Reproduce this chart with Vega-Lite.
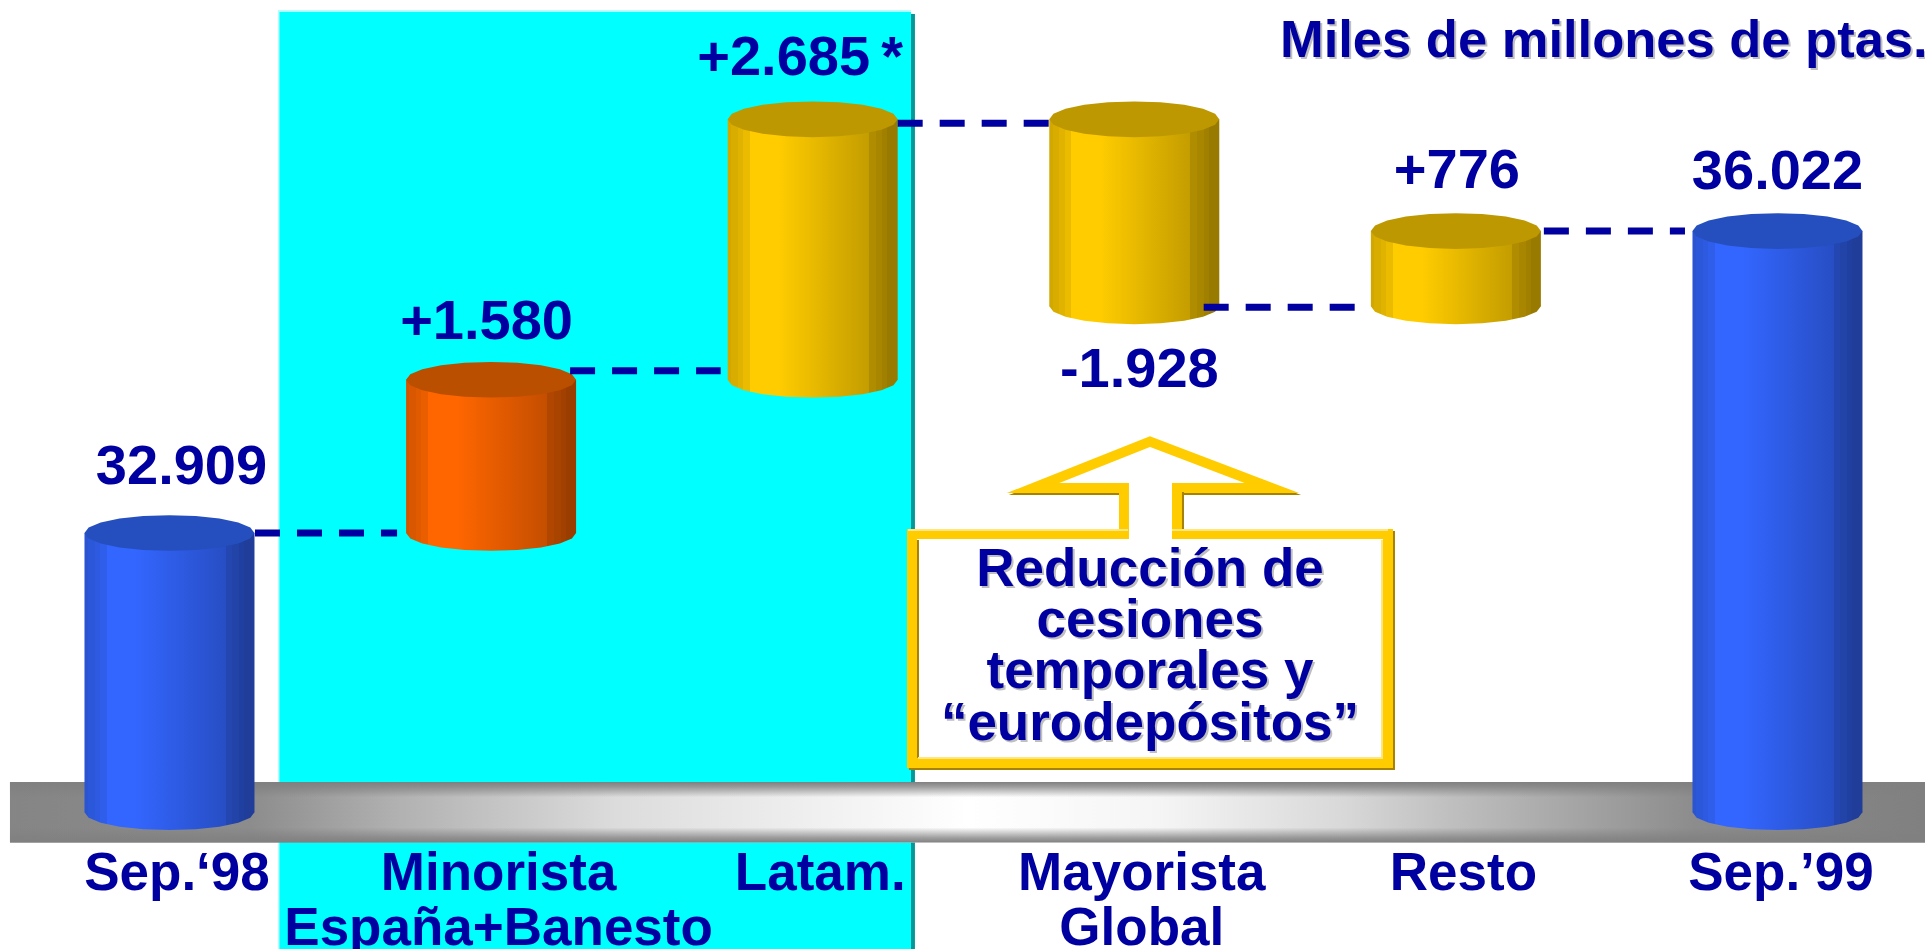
{
  "$schema": "https://vega.github.io/schema/vega-lite/v6.json",
  "width": 1925,
  "height": 949,
  "padding": 0,
  "autosize": "none",
  "background": "white",
  "datasets": {
    "tramos": [
      {"concepto": "Sep.‘98", "orden": 1, "siguiente": 2, "suelo": 30030, "techo": 32909, "nivel": 32909, "grupo": "saldo", "rotulo": "32.909"},
      {"concepto": "Minorista España+Banesto", "orden": 2, "siguiente": 3, "suelo": 32909, "techo": 34489, "nivel": 34489, "grupo": "minorista", "rotulo": "+1.580"},
      {"concepto": "Latam.", "orden": 3, "siguiente": 4, "suelo": 34489, "techo": 37174, "nivel": 37174, "grupo": "otros", "rotulo": "+2.685\u2009*"},
      {"concepto": "Mayorista Global", "orden": 4, "siguiente": 5, "suelo": 35246, "techo": 37174, "nivel": 35246, "grupo": "otros", "rotulo": "-1.928"},
      {"concepto": "Resto", "orden": 5, "siguiente": 6, "suelo": 35246, "techo": 36022, "nivel": 36022, "grupo": "otros", "rotulo": "+776"},
      {"concepto": "Sep.’99", "orden": 6, "suelo": 30030, "techo": 36022, "nivel": 36022, "grupo": "saldo", "rotulo": "36.022"}
    ],
    "paneles": [
      {"elemento": "sombra", "desde": 1.3374, "hasta": 3.318, "arriba": 38260, "abajo": 28620},
      {"elemento": "brillo", "desde": 1.3374, "hasta": 3.3056, "arriba": 38301, "abajo": 28620},
      {"elemento": "fondo", "desde": 1.3421, "hasta": 3.3056, "arriba": 38280, "abajo": 28620},
      {"elemento": "base", "desde": 0.504, "hasta": 6.4587, "arriba": 30341, "abajo": 29717}
    ],
    "notas": [
      {"clase": "unidad", "texto": "Miles de millones de ptas.", "orden": 4.453, "nivel": 37819},
      {"clase": "llamada", "texto": "Reducción de\ncesiones\ntemporales y\n“eurodepósitos”", "orden": 4.0488, "nivel": 32218}
    ]
  },
  "data": {"name": "tramos"},
  "encoding": {
    "x": {
      "field": "orden",
      "type": "quantitative",
      "scale": {"domain": [0.473, 6.4587], "nice": false, "zero": false, "padding": 0},
      "axis": {
        "title": null,
        "values": [1, 2, 3, 4, 5, 6],
        "labelExpr": "['Sep.‘98', ['Minorista', 'España+Banesto'], 'Latam.', ['Mayorista', 'Global'], 'Resto', 'Sep.’99'][datum.value - 1]",
        "grid": false,
        "domain": false,
        "ticks": false,
        "zindex": 1,
        "offset": -102,
        "labelPadding": 0,
        "labelOffset": {"condition": {"test": "datum.value === 6", "value": 3}, "value": 7},
        "labelBaseline": "top",
        "labelFont": "Liberation Sans",
        "labelFontWeight": "bold",
        "labelFontSize": 53,
        "labelLineHeight": 55,
        "labelColor": "#0000A0",
        "labelOverlap": false,
        "labelBound": false,
        "labelFlush": false,
        "labelLimit": 0
      }
    },
    "y": {
      "field": "nivel",
      "type": "quantitative",
      "axis": null,
      "scale": {"domain": [28620, 38404], "nice": false, "zero": false, "padding": 0}
    }
  },
  "layer": [
    {
      "description": "Panel cian del negocio minorista, con su canto oscuro y su brillo",
      "data": {"name": "paneles"},
      "transform": [{"filter": "datum.elemento !== 'base'"}],
      "mark": {"type": "rect", "stroke": null},
      "encoding": {
        "x": {"field": "desde", "type": "quantitative"},
        "x2": {"field": "hasta"},
        "y": {"field": "arriba", "type": "quantitative", "axis": null},
        "y2": {"field": "abajo"},
        "fill": {
          "field": "elemento",
          "type": "nominal",
          "legend": null,
          "scale": {"domain": ["sombra", "brillo", "fondo"], "range": ["#009999", "#B3FFFF", "#00FFFF"]}
        }
      }
    },
    {
      "description": "Peana gris: degradado horizontal",
      "data": {"name": "paneles"},
      "transform": [{"filter": "datum.elemento === 'base'"}],
      "mark": {
        "type": "rect",
        "fill": {
          "gradient": "linear", "x1": 0, "y1": 0, "x2": 1, "y2": 0,
          "stops": [
            {"offset": 0, "color": "#858585"},
            {"offset": 0.125, "color": "#8C8C8C"},
            {"offset": 0.2, "color": "#B0B0B0"},
            {"offset": 0.317, "color": "#DCDCDC"},
            {"offset": 0.5, "color": "#FFFFFF"},
            {"offset": 0.6, "color": "#F5F5F5"},
            {"offset": 0.697, "color": "#D8D8D8"},
            {"offset": 0.75, "color": "#C0C0C0"},
            {"offset": 0.88, "color": "#8C8C8C"},
            {"offset": 1, "color": "#808080"}
          ]
        }
      },
      "encoding": {
        "x": {"field": "desde", "type": "quantitative"},
        "x2": {"field": "hasta"},
        "y": {"field": "arriba", "type": "quantitative", "axis": null},
        "y2": {"field": "abajo"}
      }
    },
    {
      "description": "Peana gris: oscurecido de los cantos superior e inferior",
      "data": {"name": "paneles"},
      "transform": [{"filter": "datum.elemento === 'base'"}],
      "mark": {
        "type": "rect",
        "fill": {
          "gradient": "linear", "x1": 0, "y1": 0, "x2": 0, "y2": 1,
          "stops": [
            {"offset": 0, "color": "rgba(128,128,128,1)"},
            {"offset": 0.08, "color": "rgba(128,128,128,0.75)"},
            {"offset": 0.25, "color": "rgba(128,128,128,0)"},
            {"offset": 0.75, "color": "rgba(128,128,128,0)"},
            {"offset": 0.92, "color": "rgba(128,128,128,0.75)"},
            {"offset": 1, "color": "rgba(128,128,128,1)"}
          ]
        }
      },
      "encoding": {
        "x": {"field": "desde", "type": "quantitative"},
        "x2": {"field": "hasta"},
        "y": {"field": "arriba", "type": "quantitative", "axis": null},
        "y2": {"field": "abajo"}
      }
    },
    {
      "description": "Cuerpo y base de los cilindros de saldo",
      "transform": [{"filter": "datum.grupo === 'saldo'"}],
      "layer": [
        {
          "mark": {"type": "point", "style": "cilindroAzul", "filled": true, "opacity": 1, "shape": "M1 0L0.951 0.065L0.809 0.123L0.588 0.17L0.309 0.2L0 0.21L-0.309 0.2L-0.588 0.17L-0.809 0.123L-0.951 0.065L-1 0L-0.951 -0.065L-0.809 -0.123L-0.588 -0.17L-0.309 -0.2L0 -0.21L0.309 -0.2L0.588 -0.17L0.809 -0.123L0.951 -0.065Z", "size": 28900},
          "encoding": {"y": {"field": "suelo", "type": "quantitative", "axis": null}}
        },
        {
          "mark": {"type": "bar", "style": "cilindroAzul", "width": 170},
          "encoding": {
            "y": {"field": "techo", "type": "quantitative", "axis": null},
            "y2": {"field": "suelo"}
          }
        }
      ]
    },
    {
      "description": "Cuerpo y base del cilindro minorista",
      "transform": [{"filter": "datum.grupo === 'minorista'"}],
      "layer": [
        {
          "mark": {"type": "point", "style": "cilindroNaranja", "filled": true, "opacity": 1, "shape": "M1 0L0.951 0.065L0.809 0.123L0.588 0.17L0.309 0.2L0 0.21L-0.309 0.2L-0.588 0.17L-0.809 0.123L-0.951 0.065L-1 0L-0.951 -0.065L-0.809 -0.123L-0.588 -0.17L-0.309 -0.2L0 -0.21L0.309 -0.2L0.588 -0.17L0.809 -0.123L0.951 -0.065Z", "size": 28900},
          "encoding": {"y": {"field": "suelo", "type": "quantitative", "axis": null}}
        },
        {
          "mark": {"type": "bar", "style": "cilindroNaranja", "width": 170},
          "encoding": {
            "y": {"field": "techo", "type": "quantitative", "axis": null},
            "y2": {"field": "suelo"}
          }
        }
      ]
    },
    {
      "description": "Cuerpo y base de los cilindros dorados",
      "transform": [{"filter": "datum.grupo === 'otros'"}],
      "layer": [
        {
          "mark": {"type": "point", "style": "cilindroOro", "filled": true, "opacity": 1, "shape": "M1 0L0.951 0.065L0.809 0.123L0.588 0.17L0.309 0.2L0 0.21L-0.309 0.2L-0.588 0.17L-0.809 0.123L-0.951 0.065L-1 0L-0.951 -0.065L-0.809 -0.123L-0.588 -0.17L-0.309 -0.2L0 -0.21L0.309 -0.2L0.588 -0.17L0.809 -0.123L0.951 -0.065Z", "size": 28900},
          "encoding": {"y": {"field": "suelo", "type": "quantitative", "axis": null}}
        },
        {
          "mark": {"type": "bar", "style": "cilindroOro", "width": 170},
          "encoding": {
            "y": {"field": "techo", "type": "quantitative", "axis": null},
            "y2": {"field": "suelo"}
          }
        }
      ]
    },
    {
      "description": "Tapa superior de cada cilindro",
      "mark": {"type": "point", "filled": true, "opacity": 1, "shape": "M1 0L0.951 0.065L0.809 0.123L0.588 0.17L0.309 0.2L0 0.21L-0.309 0.2L-0.588 0.17L-0.809 0.123L-0.951 0.065L-1 0L-0.951 -0.065L-0.809 -0.123L-0.588 -0.17L-0.309 -0.2L0 -0.21L0.309 -0.2L0.588 -0.17L0.809 -0.123L0.951 -0.065Z", "size": 28900},
      "encoding": {
        "y": {"field": "techo", "type": "quantitative", "axis": null},
        "color": {
          "field": "grupo",
          "type": "nominal",
          "legend": null,
          "scale": {"domain": ["saldo", "minorista", "otros"], "range": ["#254FBF", "#BA4F00", "#BD9800"]}
        }
      }
    },
    {
      "description": "Flecha de la llamada: canto oscuro",
      "data": {"name": "notas"},
      "transform": [{"filter": "datum.clase === 'llamada'"}],
      "mark": {
        "type": "point", "filled": false, "opacity": 1, "xOffset": 2, "yOffset": 2,
        "stroke": "#A68200", "strokeWidth": 10, "strokeJoin": "miter", "strokeMiterLimit": 10,
        "shape": "M-238 -66L-26 -66L-26 -112L-117 -112L0 -158.5L122 -112L27 -112L27 -66L238 -66L238 163L-238 163Z",
        "size": 4
      }
    },
    {
      "description": "Flecha de la llamada: trazo dorado y fondo blanco",
      "data": {"name": "notas"},
      "transform": [{"filter": "datum.clase === 'llamada'"}],
      "mark": {
        "type": "point", "filled": false, "opacity": 1, "fill": "white", "fillOpacity": 1,
        "stroke": "#FFCC00", "strokeWidth": 10, "strokeJoin": "miter", "strokeMiterLimit": 10,
        "shape": "M-238 -66L-26 -66L-26 -112L-117 -112L0 -158.5L122 -112L27 -112L27 -66L238 -66L238 163L-238 163Z",
        "size": 4
      }
    },
    {
      "description": "Flecha de la llamada: biseles oscuros interiores",
      "data": {"name": "notas"},
      "transform": [{"filter": "datum.clase === 'llamada'"}],
      "mark": {
        "type": "point", "filled": false, "opacity": 1, "stroke": "#A68200", "strokeWidth": 2,
        "shape": "M-232 158L-232 -60M33 -69L33 -108",
        "size": 4
      }
    },
    {
      "description": "Flecha de la llamada: biseles claros",
      "data": {"name": "notas"},
      "transform": [{"filter": "datum.clase === 'llamada'"}],
      "mark": {
        "type": "point", "filled": false, "opacity": 1, "stroke": "#FFE680", "strokeWidth": 2,
        "shape": "M-242 -70L-22 -70M22 -70L238 -70M-232 158L232 158L232 -60",
        "size": 4
      }
    },
    {
      "description": "Conector Sep.98 a Minorista",
      "transform": [{"filter": "datum.orden === 1"}],
      "mark": {"type": "rule", "stroke": "#0000A0", "strokeWidth": 7, "strokeDash": [25, 17], "xOffset": 85.5, "x2Offset": -94},
      "encoding": {"x2": {"field": "siguiente"}}
    },
    {
      "description": "Conector Minorista a Latam.",
      "transform": [{"filter": "datum.orden === 2"}],
      "mark": {"type": "rule", "stroke": "#0000A0", "strokeWidth": 7, "strokeDash": [25, 17], "xOffset": 79, "x2Offset": -92, "yOffset": -9},
      "encoding": {"x2": {"field": "siguiente"}}
    },
    {
      "description": "Conector Latam. a Mayorista",
      "transform": [{"filter": "datum.orden === 3"}],
      "mark": {"type": "rule", "stroke": "#0000A0", "strokeWidth": 7, "strokeDash": [25, 17], "xOffset": 85, "x2Offset": -84, "yOffset": 4},
      "encoding": {"x2": {"field": "siguiente"}}
    },
    {
      "description": "Conector Mayorista a Resto",
      "transform": [{"filter": "datum.orden === 4"}],
      "mark": {"type": "rule", "stroke": "#0000A0", "strokeWidth": 7, "strokeDash": [25, 17], "xOffset": 69.4, "x2Offset": -101, "yOffset": 1},
      "encoding": {"x2": {"field": "siguiente"}}
    },
    {
      "description": "Conector Resto a Sep.99",
      "transform": [{"filter": "datum.orden === 5"}],
      "mark": {"type": "rule", "stroke": "#0000A0", "strokeWidth": 7, "strokeDash": [25, 17], "xOffset": 88, "x2Offset": -92.5},
      "encoding": {"x2": {"field": "siguiente"}}
    },
    {
      "transform": [{"filter": "datum.orden === 1"}],
      "mark": {"type": "text", "style": "cifra", "dx": 12, "dy": -49},
      "encoding": {"text": {"field": "rotulo"}}
    },
    {
      "transform": [{"filter": "datum.orden === 2"}],
      "mark": {"type": "text", "style": "cifra", "dx": -4.5, "dy": -41},
      "encoding": {"text": {"field": "rotulo"}}
    },
    {
      "transform": [{"filter": "datum.orden === 3"}],
      "mark": {"type": "text", "style": "cifra", "dx": -12.5, "dy": -44},
      "encoding": {"text": {"field": "rotulo"}}
    },
    {
      "transform": [{"filter": "datum.orden === 4"}],
      "mark": {"type": "text", "style": "cifra", "dx": 5, "dy": 80.7},
      "encoding": {"text": {"field": "rotulo"}}
    },
    {
      "transform": [{"filter": "datum.orden === 5"}],
      "mark": {"type": "text", "style": "cifra", "dx": 1, "dy": -43},
      "encoding": {"text": {"field": "rotulo"}}
    },
    {
      "transform": [{"filter": "datum.orden === 6"}],
      "mark": {"type": "text", "style": "cifra", "dx": 0, "dy": -42},
      "encoding": {"text": {"field": "rotulo"}}
    },
    {
      "description": "Unidad de medida, sombra",
      "data": {"name": "notas"},
      "transform": [{"filter": "datum.clase === 'unidad'"}],
      "mark": {"type": "text", "font": "Liberation Sans", "fontWeight": "bold", "fontSize": 52.5, "align": "left", "baseline": "alphabetic", "fill": "#BFBFBF", "dx": 2, "dy": 2},
      "encoding": {"text": {"field": "texto"}}
    },
    {
      "description": "Unidad de medida",
      "data": {"name": "notas"},
      "transform": [{"filter": "datum.clase === 'unidad'"}],
      "mark": {"type": "text", "font": "Liberation Sans", "fontWeight": "bold", "fontSize": 52.5, "align": "left", "baseline": "alphabetic", "fill": "#0000A0"},
      "encoding": {"text": {"field": "texto"}}
    },
    {
      "description": "Texto de la llamada, sombra",
      "data": {"name": "notas"},
      "transform": [{"filter": "datum.clase === 'llamada'"}],
      "mark": {"type": "text", "font": "Liberation Sans", "fontWeight": "bold", "fontSize": 53, "align": "center", "baseline": "alphabetic", "lineBreak": "\n", "lineHeight": 51.2, "fill": "#BFBFBF", "dx": 2, "dy": -12},
      "encoding": {"text": {"field": "texto"}}
    },
    {
      "description": "Texto de la llamada",
      "data": {"name": "notas"},
      "transform": [{"filter": "datum.clase === 'llamada'"}],
      "mark": {"type": "text", "font": "Liberation Sans", "fontWeight": "bold", "fontSize": 53, "align": "center", "baseline": "alphabetic", "lineBreak": "\n", "lineHeight": 51.2, "fill": "#0000A0", "dy": -14},
      "encoding": {"text": {"field": "texto"}}
    }
  ],
  "config": {
    "view": {"stroke": null},
    "style": {
      "cifra": {"font": "Liberation Sans", "fontWeight": "bold", "fontSize": 56, "align": "center", "baseline": "alphabetic", "color": "#0000A0"},
      "cilindroAzul": {
        "stroke": null,
        "color": {
          "gradient": "linear", "x1": 0, "y1": 0, "x2": 1, "y2": 0,
          "stops": [
            {"offset": 0, "color": "#2A54D1"}, {"offset": 0.02, "color": "#2A54D1"},
            {"offset": 0.02, "color": "#2B57D9"}, {"offset": 0.06, "color": "#2B57D9"},
            {"offset": 0.06, "color": "#2D5AE0"}, {"offset": 0.09, "color": "#2D5AE0"},
            {"offset": 0.09, "color": "#2F5EEB"}, {"offset": 0.13, "color": "#2F5EEB"},
            {"offset": 0.13, "color": "#3366FF"}, {"offset": 0.3, "color": "#3366FF"},
            {"offset": 0.83, "color": "#274EC4"},
            {"offset": 0.83, "color": "#2346B0"}, {"offset": 0.87, "color": "#2346B0"},
            {"offset": 0.87, "color": "#2243A8"}, {"offset": 0.91, "color": "#2243A8"},
            {"offset": 0.91, "color": "#2040A1"}, {"offset": 0.94, "color": "#2040A1"},
            {"offset": 0.94, "color": "#1F3D99"}, {"offset": 1, "color": "#1F3D99"}
          ]
        }
      },
      "cilindroNaranja": {
        "stroke": null,
        "color": {
          "gradient": "linear", "x1": 0, "y1": 0, "x2": 1, "y2": 0,
          "stops": [
            {"offset": 0, "color": "#D15400"}, {"offset": 0.02, "color": "#D15400"},
            {"offset": 0.02, "color": "#D95700"}, {"offset": 0.06, "color": "#D95700"},
            {"offset": 0.06, "color": "#E05A00"}, {"offset": 0.09, "color": "#E05A00"},
            {"offset": 0.09, "color": "#EB5E00"}, {"offset": 0.13, "color": "#EB5E00"},
            {"offset": 0.13, "color": "#FF6600"}, {"offset": 0.3, "color": "#FF6600"},
            {"offset": 0.83, "color": "#C44E00"},
            {"offset": 0.83, "color": "#B04600"}, {"offset": 0.87, "color": "#B04600"},
            {"offset": 0.87, "color": "#A84300"}, {"offset": 0.91, "color": "#A84300"},
            {"offset": 0.91, "color": "#A14000"}, {"offset": 0.94, "color": "#A14000"},
            {"offset": 0.94, "color": "#993D00"}, {"offset": 1, "color": "#993D00"}
          ]
        }
      },
      "cilindroOro": {
        "stroke": null,
        "color": {
          "gradient": "linear", "x1": 0, "y1": 0, "x2": 1, "y2": 0,
          "stops": [
            {"offset": 0, "color": "#D1A700"}, {"offset": 0.02, "color": "#D1A700"},
            {"offset": 0.02, "color": "#D9AD00"}, {"offset": 0.06, "color": "#D9AD00"},
            {"offset": 0.06, "color": "#E0B300"}, {"offset": 0.09, "color": "#E0B300"},
            {"offset": 0.09, "color": "#EBBB00"}, {"offset": 0.13, "color": "#EBBB00"},
            {"offset": 0.13, "color": "#FFCC00"}, {"offset": 0.3, "color": "#FFCC00"},
            {"offset": 0.83, "color": "#C49D00"},
            {"offset": 0.83, "color": "#B08D00"}, {"offset": 0.87, "color": "#B08D00"},
            {"offset": 0.87, "color": "#A88600"}, {"offset": 0.91, "color": "#A88600"},
            {"offset": 0.91, "color": "#A18000"}, {"offset": 0.94, "color": "#A18000"},
            {"offset": 0.94, "color": "#997A00"}, {"offset": 1, "color": "#997A00"}
          ]
        }
      }
    }
  }
}
